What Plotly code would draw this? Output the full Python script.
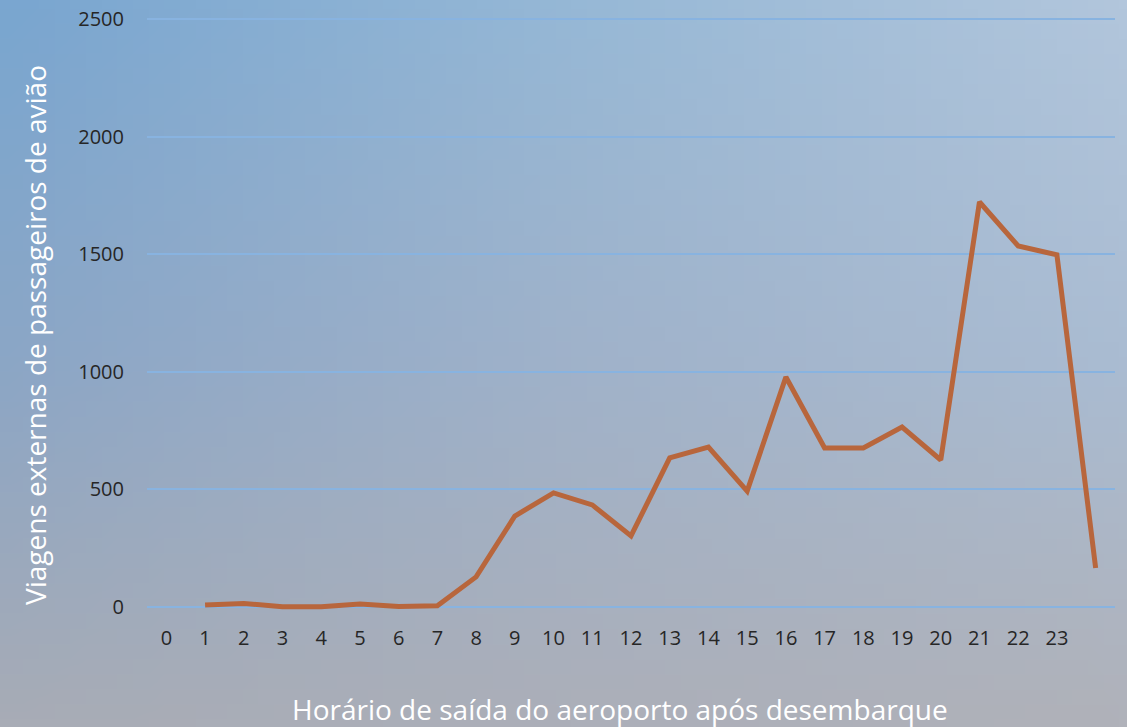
import base64
import struct
import zlib

import numpy as np
import plotly.graph_objects as go

# horário de saída (posição na categoria) e viagens
hours = list(range(1, 25))
trips = [8, 15, 1, 1, 13, 2, 5, 128, 387, 485, 434, 302, 634, 680, 493, 978,
         676, 676, 765, 625, 1722, 1535, 1497, 166]
tick_vals = list(range(0, 24))
tick_text = [str(h) for h in tick_vals]
y_ticks = [0, 500, 1000, 1500, 2000, 2500]

W, H = 1127, 727
L, R, T, B = 147, 12, 16, 117
pw, ph = W - L - R, H - T - B
# pequena folga no eixo y para que as linhas de grade 0 e 2500 apareçam
px_per_unit = 588 / 2500
y_lo = -3 / px_per_unit
y_hi = y_lo + ph / px_per_unit


def gradient_png():
    # fundo de céu: grade 3x3 de cores interpolada
    grid = np.array([
        [[122, 166, 208], [150, 184, 214], [178, 198, 220]],
        [[140, 166, 198], [160, 178, 202], [170, 188, 210]],
        [[168, 172, 182], [172, 175, 185], [176, 178, 186]],
    ], dtype=float)
    h, w = 48, 72
    ys = np.linspace(0, 2, h)
    xs = np.linspace(0, 2, w)
    img = np.zeros((h, w, 3))
    for i, yv in enumerate(ys):
        y0 = min(int(yv), 1)
        fy = yv - y0
        for j, xv in enumerate(xs):
            x0 = min(int(xv), 1)
            fx = xv - x0
            c = (grid[y0, x0] * (1 - fx) * (1 - fy) + grid[y0, x0 + 1] * fx * (1 - fy)
                 + grid[y0 + 1, x0] * (1 - fx) * fy + grid[y0 + 1, x0 + 1] * fx * fy)
            img[i, j] = c
    img = img.astype(np.uint8)
    raw = b"".join(b"\x00" + row.tobytes() for row in img)

    def chunk(tag, data):
        c = struct.pack(">I", len(data)) + tag + data
        return c + struct.pack(">I", zlib.crc32(tag + data) & 0xffffffff)

    png = b"\x89PNG\r\n\x1a\n"
    png += chunk(b"IHDR", struct.pack(">IIBBBBB", w, h, 8, 2, 0, 0, 0))
    png += chunk(b"IDAT", zlib.compress(raw, 9))
    png += chunk(b"IEND", b"")
    return "data:image/png;base64," + base64.b64encode(png).decode()


fig = go.Figure()
fig.add_trace(go.Scatter(
    x=hours, y=trips, mode="lines",
    line=dict(color="#b8663c", width=5),
    hoverinfo="x+y", showlegend=False,
))

fig.add_layout_image(dict(
    source=gradient_png(), xref="paper", yref="paper",
    x=-L / pw, y=1 + T / ph, sizex=W / pw, sizey=H / ph,
    sizing="stretch", layer="below",
))

fig.update_layout(
    width=W, height=H,
    margin=dict(l=L, r=R, t=T, b=B, autoexpand=False),
    paper_bgcolor="#a4b4c8",
    plot_bgcolor="rgba(0,0,0,0)",
    font=dict(family="Open Sans", size=20, color="#262626"),
    xaxis=dict(
        range=[-0.5, 24.5], tickmode="array", tickvals=tick_vals, ticktext=tick_text,
        showgrid=False, zeroline=False, showline=False, ticks="",
        ticklabelstandoff=14, fixedrange=True, automargin=False,
    ),
    yaxis=dict(
        range=[y_lo, y_hi], tickvals=y_ticks,
        showgrid=True, gridcolor="#88b3e0", gridwidth=1.5, zeroline=False,
        showline=False, ticks="", ticklabelstandoff=22, fixedrange=True,
        automargin=False,
    ),
    annotations=[
        dict(text="Horário de saída do aeroporto após desembarque",
             xref="paper", yref="paper", x=(620 - L) / pw, y=-(709 - T - ph) / ph,
             showarrow=False, font=dict(size=28, color="white"),
             xanchor="center", yanchor="middle"),
        dict(text="Viagens externas de passageiros de avião",
             xref="paper", yref="paper", x=(35 - L) / pw, y=(T + ph - 335) / ph,
             showarrow=False, textangle=-90, font=dict(size=28, color="white"),
             xanchor="center", yanchor="middle"),
    ],
)

fig.write_html(
    "out.html",
    config={"displayModeBar": False},
    post_script="document.body.style.margin='0';document.body.style.overflow='hidden';",
)
